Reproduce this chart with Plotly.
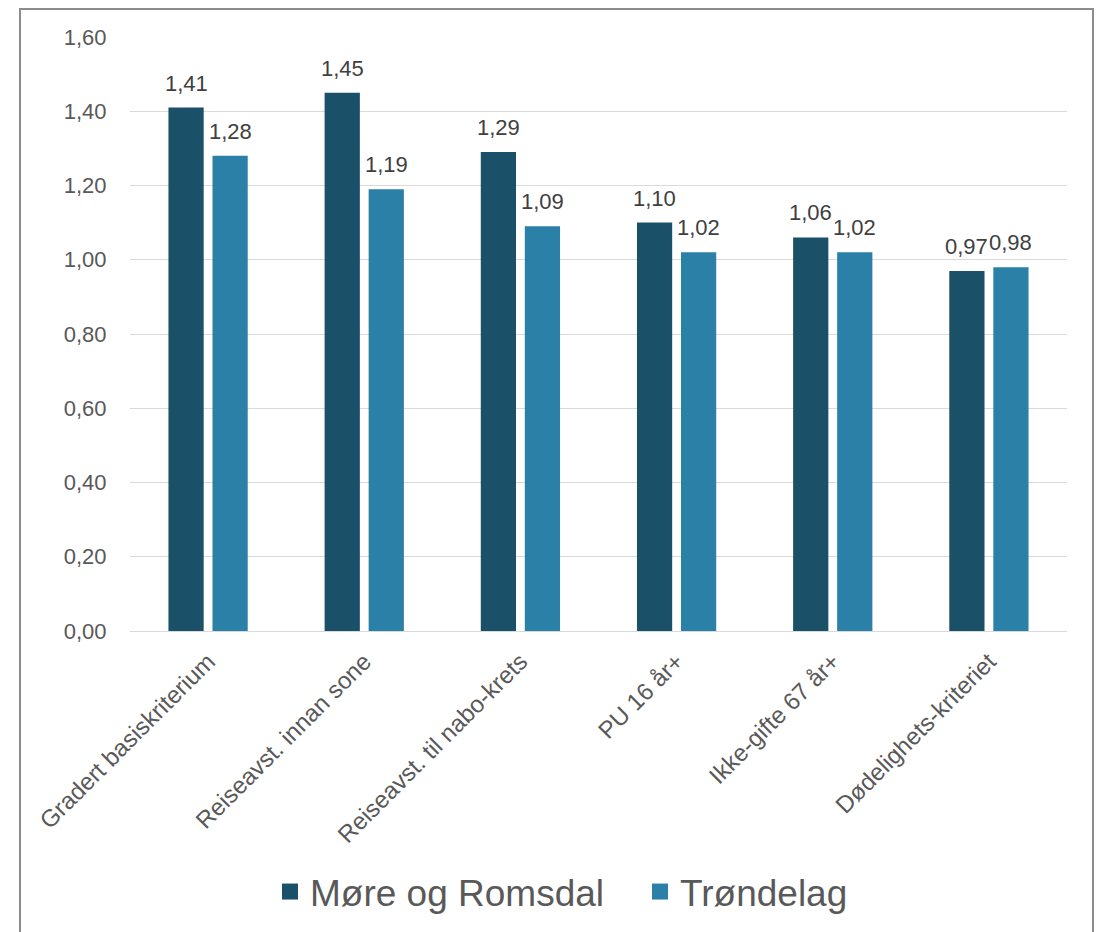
import plotly.graph_objects as go

categories = ["Gradert basiskriterium", "Reiseavst. innan sone", "Reiseavst. til nabo-krets",
              "PU 16 år+", "Ikke-gifte 67 år+", "Dødelighets-kriteriet"]
more_romsdal = [1.41, 1.45, 1.29, 1.10, 1.06, 0.97]
trondelag = [1.28, 1.19, 1.09, 1.02, 1.02, 0.98]
series_names = ["Møre og Romsdal", "Trøndelag"]
colors = ["#1B5069", "#2B80A8"]
legend_ids = ["legend", "legend2"]

FONT = "Liberation Sans, Arial"
fig = go.Figure()
for name, vals, col, lg in zip(series_names, [more_romsdal, trondelag], colors, legend_ids):
    fig.add_trace(go.Bar(x=categories, y=vals, name=name, marker_color=col,
                         marker_line_width=0, showlegend=False))
    # legend entry with a larger square symbol
    fig.add_trace(go.Scatter(x=[None], y=[None], mode="markers", name=name, legend=lg,
                             marker=dict(symbol="square", size=19, color=col)))

annotations = []
for vals, shift in [(more_romsdal, -22), (trondelag, 22)]:
    for c, v in zip(categories, vals):
        annotations.append(dict(x=c, y=v, xshift=shift, yshift=10, yanchor="bottom",
                                text=f"{v:.2f}".replace(".", ","), showarrow=False,
                                font=dict(family=FONT, size=22, color="#404040")))

L, R, T, B = 122, 43, 29, 309
W, H = 1102, 932
pw = W - L - R
ph = H - T - B

legend_common = dict(orientation="h", xanchor="left", y=(T + ph - 884) / ph,
                     yanchor="middle", font=dict(size=37, color="#595959"),
                     itemsizing="trace", itemwidth=30, bgcolor="rgba(0,0,0,0)")

fig.update_layout(
    width=W, height=H,
    margin=dict(l=L, r=R, t=T, b=B, autoexpand=False),
    paper_bgcolor="white", plot_bgcolor="white",
    separators=",.",
    barmode="group", bargap=0.436, bargroupgap=0.2,
    font=dict(family=FONT, color="#595959"),
    xaxis=dict(tickangle=-45, tickfont=dict(size=24, color="#595959"), showgrid=False,
               showline=False, ticks="outside", ticklen=6, tickcolor="rgba(0,0,0,0)"),
    yaxis=dict(range=[0, 1.6], dtick=0.2, tickformat=".2f", showgrid=True,
               gridcolor="#D9D9D9", gridwidth=1, zeroline=True, zerolinecolor="#D9D9D9",
               zerolinewidth=1, tickfont=dict(size=22, color="#595959"),
               ticks="outside", ticklen=18, tickcolor="rgba(0,0,0,0)"),
    legend=dict(x=(262 - L) / pw, **legend_common),
    legend2=dict(x=(632 - L) / pw, **legend_common),
    annotations=annotations,
    shapes=[dict(type="rect", xref="paper", yref="paper",
                 x0=(12 - L) / pw, x1=(1085 - L) / pw,
                 y0=(T + ph - 940) / ph, y1=(T + ph - 1) / ph,
                 line=dict(color="#8C8C8C", width=2), fillcolor="rgba(0,0,0,0)")],
)

fig.write_html("out.html")
